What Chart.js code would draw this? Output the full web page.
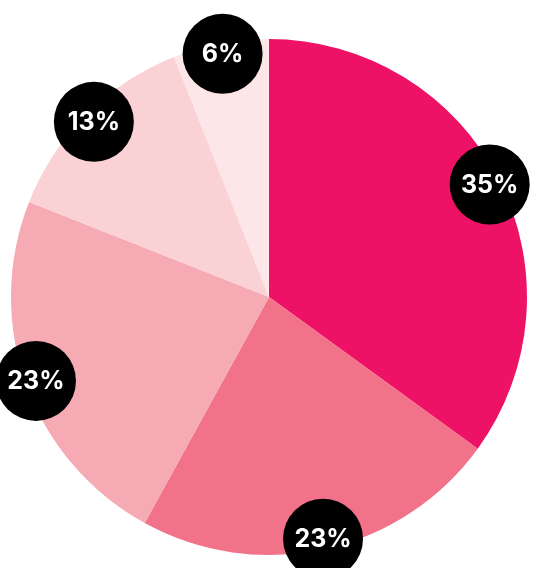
<!DOCTYPE html>
<html><head><meta charset="utf-8">
<script src="https://cdn.jsdelivr.net/npm/chart.js@4"></script>
<style>html,body{margin:0;padding:0;background:#fff}#w{width:545px;height:568px}</style>
</head><body><div id="w"><canvas id="c"></canvas></div>
<script>
const categories = ["A","B","C","D","E"];
const values = [35, 23, 23, 13, 6];
const labels = ["35%","23%","23%","13%","6%"];
const colors = ["#EE1266","#F27289","#F6ABB4","#FAD1D5","#FDE6E7"];
const badgePlugin = {
  id: 'badges',
  afterDatasetsDraw(chart) {
    const ctx = chart.ctx;
    chart.getDatasetMeta(0).data.forEach((arc, i) => {
      const p = arc.getProps(['x','y','startAngle','endAngle','outerRadius'], true);
      const a = (p.startAngle + p.endAngle) / 2;
      const r = p.outerRadius * 0.96;
      const x = p.x + Math.cos(a) * r, y = p.y + Math.sin(a) * r;
      ctx.save();
      ctx.beginPath(); ctx.arc(x, y, 40, 0, Math.PI * 2); ctx.fillStyle = '#000'; ctx.fill();
      ctx.fillStyle = '#fff'; ctx.font = 'bold 25px Inter, "DejaVu Sans", sans-serif';
      ctx.textAlign = 'center'; ctx.textBaseline = 'middle';
      ctx.fillText(labels[i], x, y + 1);
      ctx.restore();
    });
  }
};
new Chart(document.getElementById('c'), {
  type: 'pie',
  data: { labels: categories, datasets: [{ data: values, backgroundColor: colors, borderWidth: 0 }] },
  options: {
    responsive: true, maintainAspectRatio: false, animation: false,
    layout: { padding: { left: 11, right: 18, top: 39, bottom: 13 } },
    plugins: { legend: { display: false }, tooltip: { enabled: false } }
  },
  plugins: [badgePlugin]
});
</script></body></html>
